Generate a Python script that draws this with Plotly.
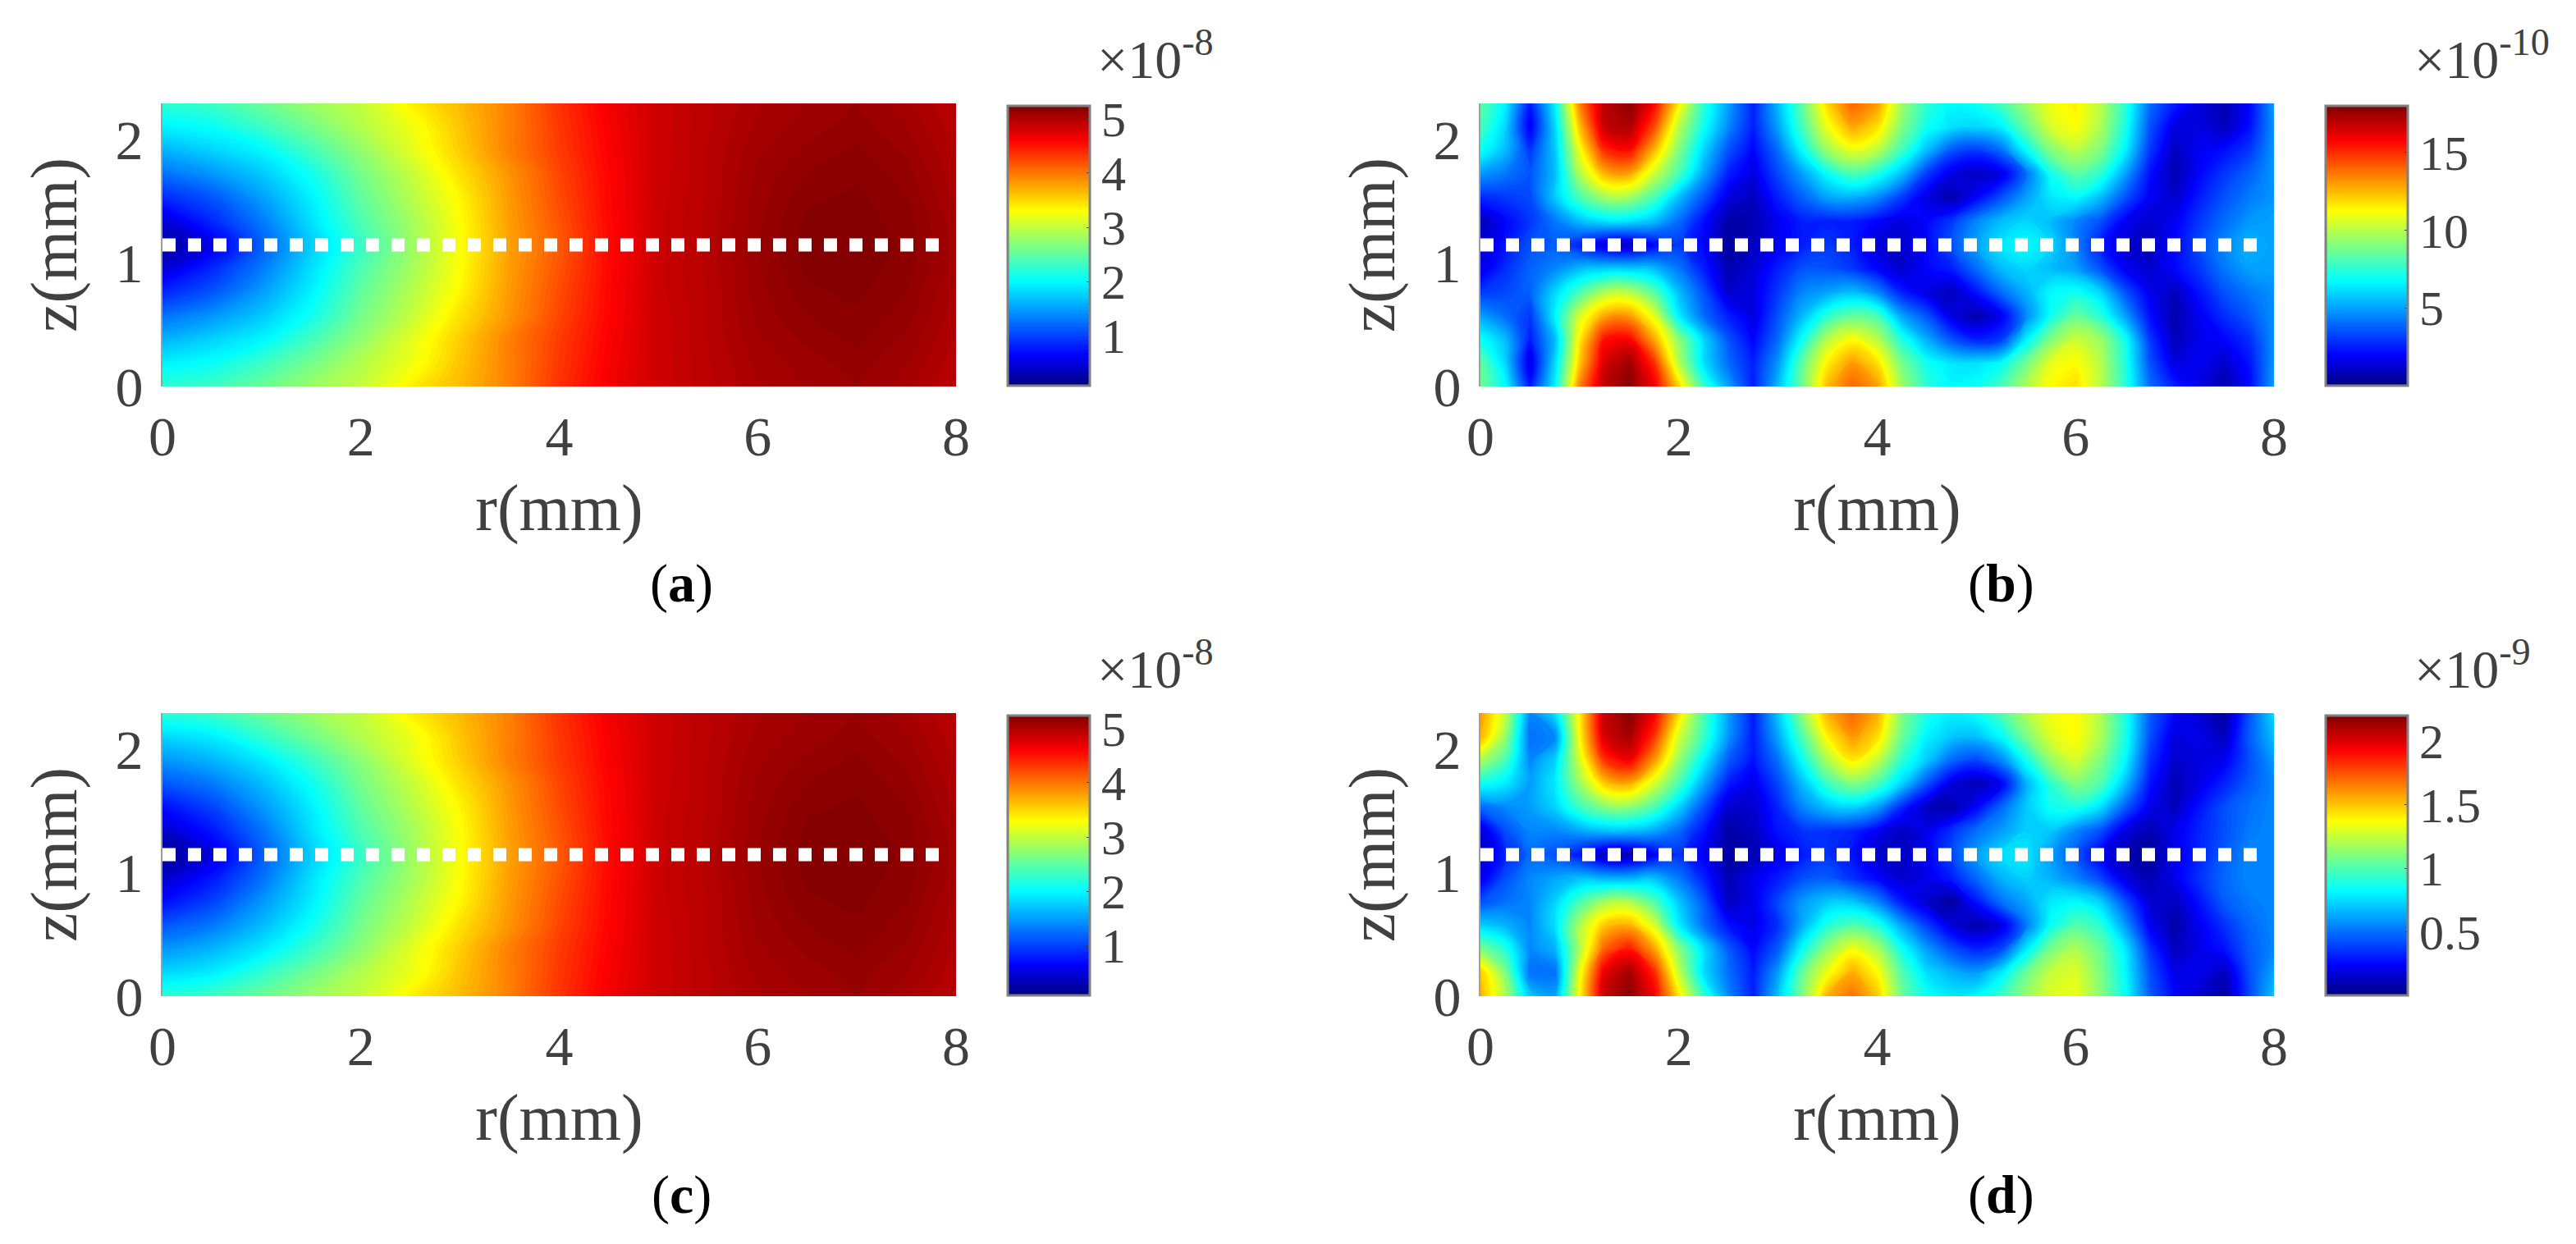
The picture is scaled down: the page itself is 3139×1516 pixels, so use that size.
import plotly.graph_objects as go

# grids
r_coarse = [0, 0.5, 1, 1.5, 2, 2.5, 3, 3.5, 4, 4.5, 5, 5.5, 6, 6.5, 7, 7.5, 8]
r_fine = [0, 0.25, 0.5, 0.75, 1, 1.25, 1.5, 1.75, 2, 2.25, 2.5, 2.75, 3, 3.25, 3.5, 3.75, 4,
          4.25, 4.5, 4.75, 5, 5.25, 5.5, 5.75, 6, 6.25, 6.5, 6.75, 7, 7.25, 7.5, 7.75, 8]
z_fine = [0, 0.191, 0.382, 0.572, 0.763, 0.954, 1.145, 1.336, 1.526, 1.717, 1.908, 2.099, 2.29]

# panel (a), units of 1e-8
field_a = [
    [2.25, 2.33, 2.55, 2.80, 3.00, 3.38, 3.65, 3.95, 4.35, 4.65, 4.85, 4.95, 5.03, 5.08, 5.12, 5.05, 4.95],
    [1.95, 2.05, 2.30, 2.60, 2.92, 3.22, 3.60, 3.95, 4.32, 4.63, 4.85, 4.95, 5.05, 5.10, 5.14, 5.08, 4.97],
    [1.60, 1.78, 1.97, 2.35, 2.75, 3.15, 3.55, 3.95, 4.30, 4.61, 4.85, 4.96, 5.07, 5.13, 5.17, 5.11, 4.99],
    [1.25, 1.45, 1.72, 2.10, 2.60, 3.00, 3.45, 3.85, 4.25, 4.59, 4.85, 4.96, 5.09, 5.16, 5.19, 5.14, 5.01],
    [0.85, 1.10, 1.50, 1.95, 2.50, 2.92, 3.35, 3.82, 4.22, 4.58, 4.86, 4.96, 5.10, 5.19, 5.21, 5.16, 5.03],
    [0.45, 0.85, 1.30, 1.85, 2.40, 2.83, 3.30, 3.80, 4.18, 4.57, 4.86, 4.97, 5.11, 5.21, 5.22, 5.18, 5.05],
    [0.20, 0.56, 1.16, 1.76, 2.30, 2.80, 3.29, 3.78, 4.15, 4.56, 4.86, 4.97, 5.12, 5.22, 5.23, 5.19, 5.06],
    [0.45, 0.85, 1.30, 1.85, 2.40, 2.83, 3.30, 3.80, 4.18, 4.57, 4.86, 4.97, 5.11, 5.21, 5.22, 5.18, 5.05],
    [0.85, 1.10, 1.50, 1.95, 2.50, 2.92, 3.35, 3.82, 4.22, 4.58, 4.86, 4.96, 5.10, 5.19, 5.21, 5.16, 5.03],
    [1.25, 1.45, 1.72, 2.10, 2.60, 3.00, 3.45, 3.85, 4.25, 4.59, 4.85, 4.96, 5.09, 5.16, 5.19, 5.14, 5.01],
    [1.60, 1.78, 1.97, 2.35, 2.75, 3.15, 3.55, 3.95, 4.30, 4.61, 4.85, 4.96, 5.07, 5.13, 5.17, 5.11, 4.99],
    [1.95, 2.05, 2.30, 2.60, 2.92, 3.22, 3.60, 3.95, 4.32, 4.63, 4.85, 4.95, 5.05, 5.10, 5.14, 5.08, 4.97],
    [2.25, 2.33, 2.55, 2.80, 3.00, 3.38, 3.65, 3.95, 4.35, 4.65, 4.85, 4.95, 5.03, 5.08, 5.12, 5.05, 4.95],
]

# panel (c), units of 1e-8
field_c = [
    [2.25, 2.33, 2.55, 2.80, 3.00, 3.38, 3.65, 3.95, 4.35, 4.65, 4.85, 4.95, 5.03, 5.08, 5.12, 5.05, 4.95],
    [1.80, 1.93, 2.25, 2.58, 2.92, 3.20, 3.60, 3.95, 4.32, 4.63, 4.85, 4.95, 5.05, 5.10, 5.14, 5.08, 4.97],
    [1.45, 1.62, 1.90, 2.30, 2.72, 3.15, 3.55, 3.95, 4.30, 4.61, 4.85, 4.96, 5.07, 5.13, 5.17, 5.11, 4.99],
    [1.10, 1.30, 1.65, 2.07, 2.60, 3.00, 3.45, 3.85, 4.25, 4.59, 4.85, 4.96, 5.09, 5.16, 5.19, 5.14, 5.01],
    [0.70, 1.00, 1.45, 1.93, 2.50, 2.92, 3.35, 3.82, 4.22, 4.58, 4.86, 4.96, 5.10, 5.19, 5.21, 5.16, 5.03],
    [0.40, 0.75, 1.25, 1.85, 2.40, 2.83, 3.30, 3.80, 4.18, 4.57, 4.86, 4.97, 5.11, 5.21, 5.22, 5.18, 5.05],
    [0.15, 0.50, 1.15, 1.76, 2.30, 2.80, 3.29, 3.78, 4.15, 4.56, 4.86, 4.97, 5.12, 5.22, 5.23, 5.19, 5.06],
    [0.40, 0.75, 1.25, 1.85, 2.40, 2.83, 3.30, 3.80, 4.18, 4.57, 4.86, 4.97, 5.11, 5.21, 5.22, 5.18, 5.05],
    [0.70, 1.00, 1.45, 1.93, 2.50, 2.92, 3.35, 3.82, 4.22, 4.58, 4.86, 4.96, 5.10, 5.19, 5.21, 5.16, 5.03],
    [1.10, 1.30, 1.65, 2.07, 2.60, 3.00, 3.45, 3.85, 4.25, 4.59, 4.85, 4.96, 5.09, 5.16, 5.19, 5.14, 5.01],
    [1.45, 1.62, 1.90, 2.30, 2.72, 3.15, 3.55, 3.95, 4.30, 4.61, 4.85, 4.96, 5.07, 5.13, 5.17, 5.11, 4.99],
    [1.80, 1.93, 2.25, 2.58, 2.92, 3.20, 3.60, 3.95, 4.32, 4.63, 4.85, 4.95, 5.05, 5.10, 5.14, 5.08, 4.97],
    [2.25, 2.33, 2.55, 2.80, 3.00, 3.38, 3.65, 3.95, 4.35, 4.65, 4.85, 4.95, 5.03, 5.08, 5.12, 5.05, 4.95],
]

# panel (b), units of 1e-10
field_b = [
    [8.8, 6.8, 2.5, 6.5, 13.5, 17.0, 17.8, 16.0, 12.0, 7.8, 5.0, 2.5, 5.5, 8.8, 12.5, 14.0, 13.0, 9.5, 7.5, 6.7, 7.0, 8.0, 9.8, 11.3, 11.8, 10.0, 7.5, 4.0, 2.5, 1.5, 0.7, 2.0, 5.0],
    [8.5, 6.0, 1.5, 6.0, 12.2, 16.5, 17.5, 15.0, 10.0, 6.2, 4.0, 2.5, 4.8, 8.5, 11.5, 13.0, 11.8, 8.8, 7.0, 6.3, 6.2, 6.8, 8.7, 10.8, 11.3, 10.0, 7.3, 3.5, 1.5, 1.8, 1.2, 2.3, 4.8],
    [7.0, 5.5, 2.5, 5.5, 11.5, 15.5, 15.8, 12.8, 9.2, 6.0, 3.5, 2.0, 4.0, 7.0, 10.0, 11.2, 10.0, 7.3, 5.2, 3.5, 2.5, 3.0, 6.5, 9.0, 10.3, 9.5, 7.0, 3.0, 0.9, 1.7, 2.0, 2.8, 4.7],
    [5.0, 4.0, 3.0, 6.5, 10.5, 12.8, 13.0, 10.8, 6.5, 4.0, 2.5, 1.5, 3.5, 5.5, 7.5, 8.5, 8.0, 5.0, 3.5, 1.5, 0.7, 1.8, 4.5, 7.0, 8.5, 7.5, 5.0, 2.2, 0.7, 1.8, 2.8, 3.6, 4.7],
    [3.0, 3.3, 3.8, 6.0, 8.0, 9.8, 10.0, 8.3, 5.5, 3.5, 1.2, 1.5, 3.0, 4.5, 5.0, 5.5, 4.5, 2.5, 1.5, 1.0, 2.3, 4.0, 5.3, 6.7, 7.0, 6.0, 3.5, 1.7, 1.0, 2.3, 3.5, 4.2, 4.7],
    [1.5, 2.8, 3.8, 4.5, 5.5, 5.8, 5.8, 5.5, 4.2, 2.5, 0.8, 1.3, 2.5, 3.5, 3.5, 3.0, 2.0, 1.2, 2.0, 2.5, 4.0, 5.5, 6.0, 5.5, 5.0, 3.5, 1.8, 1.2, 2.0, 3.0, 4.2, 5.0, 5.0],
    [1.2, 2.3, 3.5, 3.7, 2.5, 1.3, 1.0, 2.0, 3.0, 2.0, 0.5, 1.0, 1.8, 2.5, 3.0, 2.5, 1.3, 1.2, 2.0, 3.5, 5.0, 6.3, 6.8, 6.0, 4.5, 2.5, 1.3, 1.0, 2.0, 3.3, 4.5, 5.3, 5.0],
    [0.9, 2.0, 3.0, 4.2, 5.5, 6.2, 6.2, 5.5, 4.0, 2.2, 0.6, 0.8, 1.8, 2.5, 2.5, 2.5, 2.0, 1.5, 2.0, 3.0, 4.5, 5.5, 6.0, 5.5, 4.5, 3.5, 1.8, 1.2, 1.8, 3.0, 4.0, 4.8, 5.0],
    [2.7, 3.0, 3.3, 5.7, 8.0, 9.5, 9.5, 8.0, 5.5, 3.5, 1.5, 1.0, 2.5, 3.8, 5.0, 5.2, 4.5, 3.0, 1.5, 0.7, 2.0, 3.5, 5.0, 6.3, 6.7, 5.5, 3.5, 1.8, 1.2, 2.5, 3.5, 4.3, 4.8],
    [4.8, 4.2, 3.5, 5.5, 9.8, 12.5, 12.8, 10.3, 8.0, 5.0, 2.5, 1.5, 3.3, 5.0, 6.8, 8.0, 7.2, 5.5, 3.0, 1.5, 1.0, 1.5, 4.0, 7.0, 8.3, 7.5, 5.0, 2.2, 0.8, 2.0, 3.0, 3.8, 4.8],
    [7.0, 5.5, 3.0, 5.7, 11.0, 15.0, 15.6, 12.5, 9.0, 6.0, 3.5, 2.0, 4.0, 6.8, 9.5, 10.8, 10.0, 7.8, 5.5, 3.5, 3.0, 4.0, 6.7, 9.0, 10.0, 9.0, 6.5, 3.0, 1.0, 1.8, 2.2, 3.0, 4.8],
    [8.0, 6.0, 1.8, 6.0, 12.3, 16.8, 17.2, 14.5, 10.0, 7.0, 4.5, 2.5, 5.0, 8.0, 11.0, 12.8, 11.8, 9.0, 7.0, 6.2, 6.0, 6.5, 8.5, 10.5, 11.2, 9.8, 7.2, 3.5, 1.5, 1.5, 1.0, 2.2, 4.8],
    [8.5, 6.5, 2.5, 6.5, 13.5, 17.0, 17.8, 15.8, 11.5, 7.5, 5.0, 2.5, 5.5, 8.5, 12.0, 14.0, 13.0, 9.5, 7.5, 6.7, 7.0, 8.0, 9.5, 11.0, 11.5, 10.0, 7.5, 4.0, 2.5, 1.5, 0.7, 2.0, 5.0],
]

# panel (d), units of 1e-9
field_d = [
    [1.55, 1.20, 0.70, 0.62, 1.38, 2.05, 2.18, 1.95, 1.42, 0.95, 0.55, 0.30, 0.70, 1.10, 1.55, 1.68, 1.50, 1.05, 0.85, 0.78, 0.82, 0.95, 1.15, 1.30, 1.33, 1.12, 0.85, 0.45, 0.25, 0.15, 0.07, 0.40, 0.70],
    [1.50, 1.10, 0.50, 0.50, 1.33, 1.98, 2.12, 1.85, 1.25, 0.75, 0.50, 0.30, 0.60, 1.05, 1.35, 1.55, 1.38, 1.00, 0.75, 0.65, 0.60, 0.78, 1.05, 1.25, 1.30, 1.10, 0.82, 0.42, 0.20, 0.20, 0.12, 0.42, 0.62],
    [1.10, 0.90, 0.55, 0.65, 1.20, 1.72, 1.88, 1.58, 1.12, 0.75, 0.45, 0.25, 0.45, 0.85, 1.15, 1.35, 1.20, 0.85, 0.60, 0.42, 0.32, 0.40, 0.78, 1.08, 1.20, 1.05, 0.78, 0.35, 0.12, 0.20, 0.28, 0.45, 0.55],
    [0.72, 0.65, 0.55, 0.75, 1.20, 1.50, 1.55, 1.30, 0.80, 0.50, 0.28, 0.20, 0.35, 0.65, 0.90, 1.00, 0.90, 0.62, 0.38, 0.18, 0.08, 0.18, 0.52, 0.85, 1.00, 0.92, 0.60, 0.22, 0.08, 0.22, 0.35, 0.48, 0.55],
    [0.42, 0.50, 0.55, 0.72, 0.98, 1.18, 1.20, 1.00, 0.70, 0.45, 0.12, 0.20, 0.40, 0.60, 0.70, 0.70, 0.55, 0.30, 0.15, 0.05, 0.28, 0.50, 0.62, 0.78, 0.82, 0.72, 0.42, 0.15, 0.12, 0.28, 0.45, 0.52, 0.55],
    [0.20, 0.42, 0.55, 0.62, 0.68, 0.65, 0.65, 0.68, 0.52, 0.32, 0.10, 0.20, 0.30, 0.42, 0.45, 0.35, 0.25, 0.15, 0.20, 0.30, 0.48, 0.65, 0.72, 0.65, 0.55, 0.40, 0.18, 0.10, 0.20, 0.35, 0.48, 0.55, 0.55],
    [0.12, 0.32, 0.48, 0.42, 0.28, 0.10, 0.08, 0.22, 0.35, 0.22, 0.07, 0.10, 0.20, 0.30, 0.35, 0.28, 0.15, 0.12, 0.22, 0.40, 0.60, 0.75, 0.78, 0.60, 0.45, 0.22, 0.10, 0.05, 0.20, 0.32, 0.45, 0.55, 0.55],
    [0.15, 0.42, 0.55, 0.55, 0.62, 0.68, 0.68, 0.62, 0.48, 0.28, 0.07, 0.12, 0.28, 0.35, 0.35, 0.32, 0.22, 0.12, 0.20, 0.35, 0.50, 0.60, 0.72, 0.70, 0.55, 0.42, 0.18, 0.10, 0.20, 0.32, 0.42, 0.52, 0.55],
    [0.48, 0.55, 0.60, 0.72, 0.95, 1.10, 1.12, 0.98, 0.72, 0.42, 0.15, 0.15, 0.32, 0.55, 0.68, 0.72, 0.60, 0.32, 0.12, 0.08, 0.25, 0.48, 0.70, 0.85, 0.88, 0.75, 0.45, 0.20, 0.12, 0.28, 0.42, 0.50, 0.55],
    [0.85, 0.78, 0.60, 0.78, 1.15, 1.48, 1.55, 1.28, 0.98, 0.62, 0.30, 0.20, 0.40, 0.68, 0.95, 1.10, 0.98, 0.72, 0.42, 0.18, 0.10, 0.22, 0.65, 0.92, 1.10, 1.00, 0.68, 0.28, 0.10, 0.20, 0.32, 0.45, 0.55],
    [1.20, 0.98, 0.55, 0.72, 1.28, 1.82, 1.95, 1.60, 1.15, 0.80, 0.45, 0.28, 0.50, 0.85, 1.20, 1.42, 1.25, 0.92, 0.70, 0.48, 0.40, 0.55, 0.85, 1.15, 1.28, 1.10, 0.82, 0.35, 0.15, 0.18, 0.22, 0.42, 0.60],
    [1.55, 1.15, 0.50, 0.55, 1.38, 2.02, 2.12, 1.82, 1.28, 0.95, 0.58, 0.30, 0.62, 1.00, 1.40, 1.60, 1.45, 1.05, 0.80, 0.70, 0.68, 0.82, 1.08, 1.30, 1.38, 1.20, 0.88, 0.42, 0.18, 0.20, 0.12, 0.45, 0.68],
    [1.60, 1.25, 0.55, 0.75, 1.40, 2.05, 2.18, 1.95, 1.45, 0.98, 0.60, 0.30, 0.70, 1.15, 1.55, 1.70, 1.55, 1.10, 0.88, 0.80, 0.85, 1.00, 1.20, 1.35, 1.38, 1.20, 0.88, 0.45, 0.25, 0.15, 0.07, 0.42, 0.75],
]

r_ticks = [0, 2, 4, 6, 8]
z_ticks = [0, 1, 2]
a_ticks = [1, 2, 3, 4, 5]
b_ticks = [5, 10, 15]
d_ticks = [0.5, 1, 1.5, 2]
d_ticklabels = ["0.5", "1", "1.5", "2"]

# matlab jet
jet = [[0, "#000080"], [0.11, "#0000ff"], [0.375, "#00ffff"], [0.625, "#ffff00"], [0.875, "#ff0000"], [1, "#800000"]]

W, H = 3139, 1516
FONT = "Liberation Serif"
INK = "#404040"
LEVELS = 128

panels = [
    dict(name="a", x=r_coarse, y=z_fine, z=field_a, zmin=0.08, zmax=5.24, ticks=a_ticks, labels=None, exp="-8",
         left=198, top=126, exp_x=1335, lab_x=830, lab_y=711),
    dict(name="b", x=r_fine, y=z_fine, z=field_b, zmin=0, zmax=18.0, ticks=b_ticks, labels=None, exp="-10",
         left=1804, top=126, exp_x=2940, lab_x=2438, lab_y=711),
    dict(name="c", x=r_coarse, y=z_fine, z=field_c, zmin=0.08, zmax=5.24, ticks=a_ticks, labels=None, exp="-8",
         left=198, top=869, exp_x=1335, lab_x=830, lab_y=1456),
    dict(name="d", x=r_fine, y=z_fine, z=field_d, zmin=0, zmax=2.2, ticks=d_ticks, labels=d_ticklabels, exp="-9",
         left=1804, top=869, exp_x=2940, lab_x=2438, lab_y=1456),
]

fig = go.Figure()
annotations = []
layout = {}

for i, p in enumerate(panels, start=1):
    xname = "x" if i == 1 else f"x{i}"
    yname = "y" if i == 1 else f"y{i}"
    left, right = p["left"], p["left"] + 967
    top, bottom = p["top"], p["top"] + 345

    # many filled levels with smoothed edges, close to the interpolated look of the original
    fig.add_trace(go.Contour(
        x=p["x"], y=p["y"], z=p["z"], zmin=p["zmin"], zmax=p["zmax"], colorscale=jet,
        autocontour=False,
        contours=dict(coloring="fill", showlines=False, start=p["zmin"], end=p["zmax"],
                      size=(p["zmax"] - p["zmin"]) / LEVELS),
        line=dict(width=0, smoothing=1.3),
        xaxis=xname, yaxis=yname,
        colorbar=dict(
            x=(right + 63) / W, xanchor="left", xpad=0, ypad=0,
            y=1 - (bottom - 1) / H, yanchor="bottom", lenmode="pixels", len=341,
            thicknessmode="pixels", thickness=100,
            outlinecolor="#808080", outlinewidth=3,
            tickvals=p["ticks"], ticktext=p["labels"], ticks="inside", ticklen=5, tickcolor=INK,
            tickprefix="\u00a0", tickfont=dict(family=FONT, size=60, color=INK),
        ),
    ))
    # dashed centre line
    fig.add_trace(go.Scatter(
        x=[0, 7.84], y=[1.145, 1.145], mode="lines", showlegend=False, hoverinfo="skip",
        line=dict(color="white", width=16, dash="16px,15px"), xaxis=xname, yaxis=yname,
    ))

    layout[xname.replace("x", "xaxis")] = dict(
        domain=[left / W, right / W], range=[0, 8], anchor=yname, automargin=False,
        tickvals=r_ticks, showgrid=False, zeroline=False, showline=False, ticks="",
        ticklabelstandoff=15, tickfont=dict(family=FONT, size=68, color=INK),
        title=dict(text="r(mm)", font=dict(family=FONT, size=80, color=INK), standoff=20),
    )
    layout[yname.replace("y", "yaxis")] = dict(
        domain=[1 - bottom / H, 1 - top / H], range=[0, 2.29], anchor=xname, automargin=False,
        tickvals=z_ticks, showgrid=False, zeroline=False, ticks="",
        showline=True, linecolor="rgba(64,64,64,0.5)", linewidth=2,
        ticklabelstandoff=8, tickfont=dict(family=FONT, size=68, color=INK),
        title=dict(text="z(mm)", font=dict(family=FONT, size=80, color=INK), standoff=20),
    )
    annotations.append(dict(
        text=f"×10<sup>{p['exp']}</sup>", xref="paper", yref="paper", showarrow=False,
        x=p["exp_x"] / W, y=1 - (top - 15) / H, xanchor="left", yanchor="bottom",
        font=dict(family=FONT, size=66, color=INK),
    ))
    annotations.append(dict(
        text=f"(<b>{p['name']}</b>)", xref="paper", yref="paper", showarrow=False,
        x=p["lab_x"] / W, y=1 - p["lab_y"] / H, xanchor="center", yanchor="middle",
        font=dict(family=FONT, size=66, color="#000000"),
    ))

fig.update_layout(
    width=W, height=H, margin=dict(l=0, r=0, t=0, b=0),
    paper_bgcolor="white", plot_bgcolor="white", showlegend=False,
    annotations=annotations, **layout,
)

fig.write_html("out.html", config={"displayModeBar": False}, post_script="document.body.style.margin='0';")
